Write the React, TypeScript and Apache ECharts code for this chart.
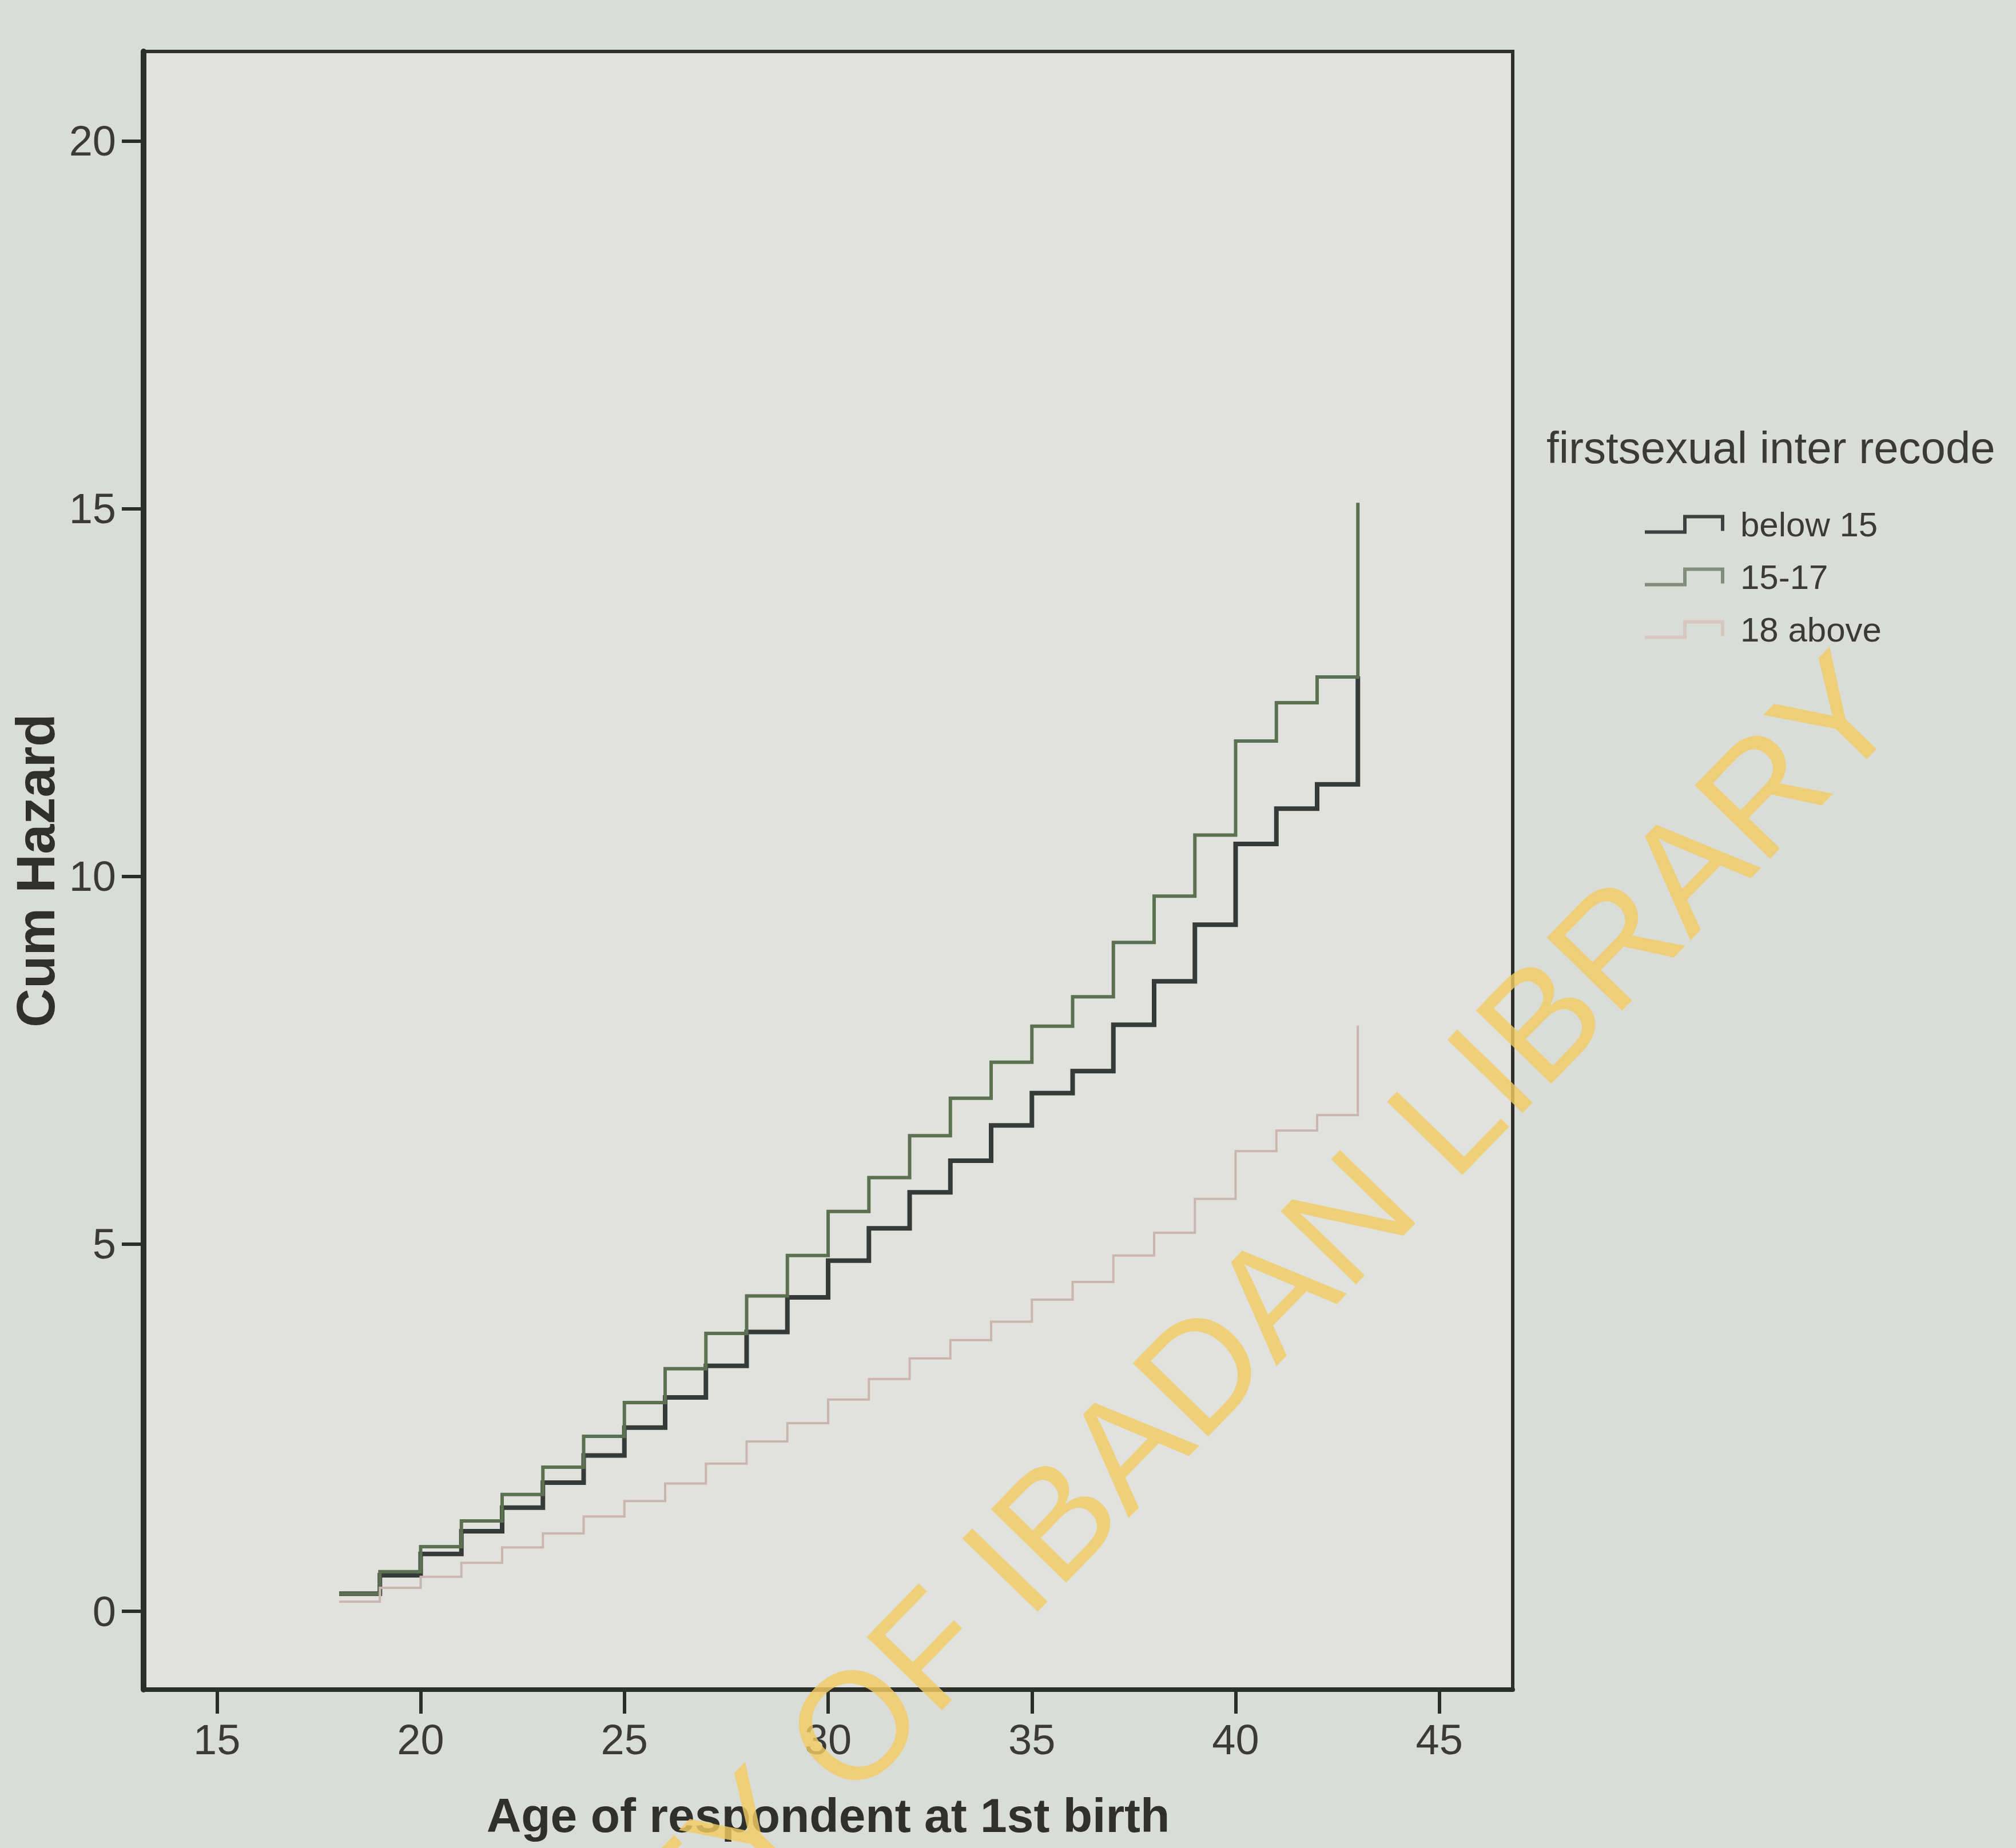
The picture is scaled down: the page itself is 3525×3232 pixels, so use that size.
import React, { useEffect, useRef } from 'react';
import * as echarts from 'echarts';

const ages = [18, 19, 20, 21, 22, 23, 24, 25, 26, 27, 28, 29, 30, 31, 32, 33, 34, 35, 36, 37, 38, 39, 40, 41, 42, 43];
const below15 = [0.24, 0.49, 0.78, 1.09, 1.41, 1.75, 2.12, 2.5, 2.91, 3.34, 3.8, 4.27, 4.77, 5.21, 5.7, 6.13, 6.61, 7.05, 7.35, 7.98, 8.57, 9.34, 10.44, 10.92, 11.25, 12.72];
const from15to17 = [0.24, 0.54, 0.88, 1.23, 1.59, 1.96, 2.38, 2.84, 3.3, 3.78, 4.29, 4.84, 5.44, 5.9, 6.47, 6.98, 7.47, 7.96, 8.36, 9.1, 9.73, 10.56, 11.84, 12.36, 12.71, 15.08];
const above18 = [0.13, 0.32, 0.47, 0.66, 0.87, 1.06, 1.29, 1.5, 1.74, 2.01, 2.31, 2.56, 2.88, 3.16, 3.44, 3.69, 3.94, 4.24, 4.48, 4.84, 5.15, 5.61, 6.26, 6.54, 6.75, 7.97];

const xTicks = [15, 20, 25, 30, 35, 40, 45];
const yTicks = [0, 5, 10, 15, 20];
const seriesNames = ['below 15', '15-17', '18 above'];
const legendTitle = 'firstsexual inter recode';
const xTitle = 'Age of respondent at 1st birth';
const yTitle = 'Cum Hazard';
const watermark = 'UNIVERSITY OF IBADAN LIBRARY';

export default function App() {
  const ref = useRef<HTMLDivElement>(null);

  useEffect(() => {
    document.body.style.margin = '0';
    const chart = echarts.init(ref.current as HTMLDivElement, null, { renderer: 'svg' });
    const font = 'Liberation Sans, Arial, sans-serif';
    const axisColor = '#2c2e2c';
    const textColor = '#3a3b38';
    const pair = (vals: number[]) => ages.map((a, i) => [a, vals[i]]);
    const stepIcon = 'path://M0,27 L67,27 L67,0 L139,0 L139,28 L133,28 L133,6 L73,6 L73,33 L0,33 Z';
    const colors = ['#363b39', '#5b7150', '#cbb6ae'];
    const widths = [8, 6, 4];
    const legendColors = ['#3d4240', '#838d7b', '#d6c8c1'];
    const values = [below15, from15to17, above18];

    chart.setOption({
      animation: false,
      backgroundColor: '#dadcd8',
      title: {
        text: legendTitle,
        left: 2704,
        top: 744,
        padding: 0,
        textStyle: { fontFamily: font, fontSize: 78, fontWeight: 'normal', color: textColor },
      },
      legend: {
        orient: 'vertical',
        left: 2876,
        top: 887,
        padding: 0,
        itemWidth: 139,
        itemHeight: 33,
        itemGap: 32,
        selectedMode: false,
        textStyle: { fontFamily: font, fontSize: 60, lineHeight: 60, color: textColor, padding: [0, 0, 0, 23] },
        data: seriesNames.map((n, i) => ({
          name: n,
          icon: stepIcon,
          itemStyle: { color: legendColors[i], borderWidth: 0 },
        })),
      },
      grid: {
        left: 251,
        right: 3525 - 2645,
        top: 90,
        bottom: 3232 - 2955,
        show: true,
        backgroundColor: '#e1e2de',
        borderColor: '#2e302e',
        borderWidth: 6,
        containLabel: false,
        outerBoundsMode: 'none',
      },
      xAxis: {
        type: 'value',
        min: 13.2,
        max: 46.8,
        name: xTitle,
        nameLocation: 'middle',
        nameGap: 178,
        nameTextStyle: { fontFamily: font, fontSize: 84, fontWeight: 'bold', color: '#2f302d' },
        axisLine: { show: true, onZero: false, lineStyle: { color: axisColor, width: 8 } },
        axisTick: { show: true, customValues: xTicks, length: 42, lineStyle: { color: axisColor, width: 6 } },
        axisLabel: { customValues: xTicks, margin: 50, fontFamily: font, fontSize: 74, color: textColor },
        splitLine: { show: false },
      },
      yAxis: {
        type: 'value',
        min: -1.065,
        max: 21.22,
        name: yTitle,
        nameLocation: 'middle',
        nameGap: 130,
        nameRotate: 90,
        nameTextStyle: { fontFamily: font, fontSize: 94, fontWeight: 'bold', color: '#2f302d' },
        axisLine: { show: true, onZero: false, lineStyle: { color: axisColor, width: 10 } },
        axisTick: { show: true, customValues: yTicks, length: 38, lineStyle: { color: axisColor, width: 6 } },
        axisLabel: { customValues: yTicks, margin: 48, fontFamily: font, fontSize: 74, color: textColor },
        splitLine: { show: false },
      },
      series: seriesNames.map((n, i) => ({
        name: n,
        type: 'line',
        step: 'end',
        data: pair(values[i]),
        symbol: 'none',
        showSymbol: false,
        lineStyle: { color: colors[i], width: widths[i], join: 'miter', cap: 'butt' },
        itemStyle: { color: colors[i] },
        z: 2 + i,
      })),
      graphic: [
        {
          type: 'text',
          x: 1762,
          y: 2740,
          rotation: 0.7994,
          z: 100,
          silent: true,
          style: {
            text: watermark,
            fontSize: 267,
            fontFamily: font,
            fill: 'rgba(240, 204, 100, 0.82)',
            align: 'center',
            verticalAlign: 'middle',
          },
        },
      ],
    });

    return () => chart.dispose();
  }, []);

  return <div ref={ref} style={{ position: 'absolute', left: 0, top: 0, width: 3525, height: 3232 }} />;
}
